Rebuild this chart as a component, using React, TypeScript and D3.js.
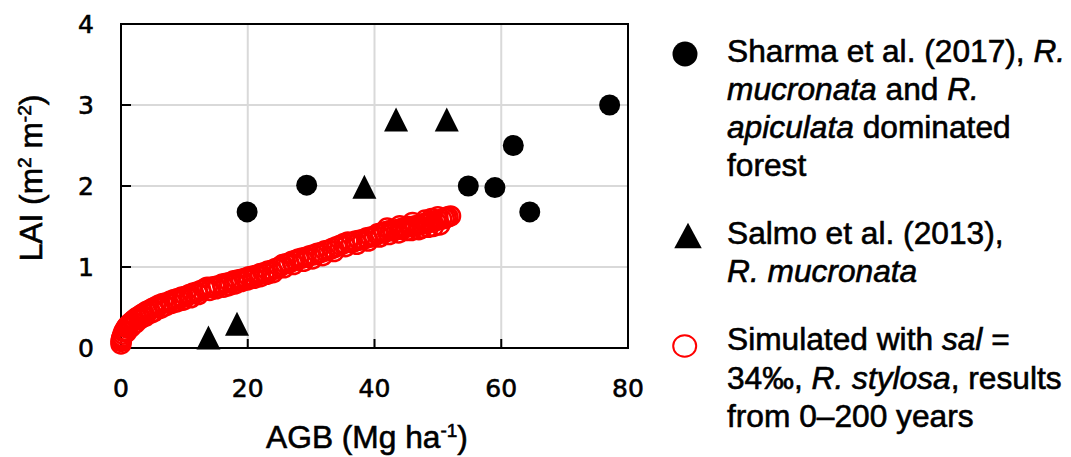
import React from "react";
import * as d3 from "d3";

const xTicks = [0, 20, 40, 60, 80];
const yTicks = [0, 1, 2, 3, 4];

// Sharma et al. (2017): [AGB, LAI]
const sharmaAGB = [19.9, 29.3, 54.8, 59.0, 61.9, 64.5, 77.1];
const sharmaLAI = [1.68, 2.01, 2.0, 1.98, 2.5, 1.68, 3.0];

// Salmo et al. (2013)
const salmoAGB = [13.8, 18.3, 38.4, 43.4, 51.4];
const salmoLAI = [0.13, 0.3, 1.99, 2.82, 2.82];

// Simulated, 0-200 years
const simulated: [number, number][] = [
  [0.0, 0.05], [0.0, 0.08], [0.05, 0.1], [0.1, 0.12], [0.2, 0.14], [0.3, 0.17], [0.45, 0.2],
  [0.6, 0.22], [0.8, 0.25], [0.9, 0.2], [1.0, 0.27], [1.25, 0.29], [1.5, 0.31], [1.6, 0.26],
  [1.8, 0.33], [2.1, 0.35], [2.3, 0.31], [2.4, 0.37], [2.8, 0.39], [3.0, 0.36], [3.2, 0.41],
  [3.6, 0.43], [3.8, 0.39], [4.0, 0.45], [4.5, 0.47], [4.7, 0.43], [5.0, 0.49], [5.2, 0.45],
  [5.5, 0.51], [6.0, 0.53], [6.2, 0.49], [6.6, 0.55], [7.0, 0.52], [7.2, 0.56], [7.8, 0.58],
  [8.0, 0.55], [8.4, 0.6], [8.8, 0.57], [9.0, 0.61], [9.6, 0.63], [9.8, 0.59], [10.2, 0.64],
  [10.8, 0.66], [11.0, 0.62], [11.4, 0.68], [12.0, 0.69], [12.2, 0.66], [12.6, 0.71],
  [13.2, 0.73], [13.6, 0.75], [14.0, 0.71], [14.2, 0.75], [14.8, 0.76], [15.0, 0.73],
  [15.4, 0.77], [16.0, 0.79], [16.2, 0.75], [16.6, 0.8], [17.0, 0.77], [17.2, 0.81],
  [17.8, 0.83], [18.0, 0.79], [18.4, 0.84], [19.0, 0.85], [19.0, 0.82], [19.6, 0.86],
  [20.0, 0.84], [20.2, 0.88], [20.8, 0.89], [21.0, 0.86], [21.4, 0.9], [22.0, 0.92],
  [22.0, 0.88], [22.6, 0.93], [23.0, 0.91], [23.2, 0.95], [23.8, 0.96], [24.0, 0.93],
  [24.4, 0.98], [25.0, 1.0], [25.5, 1.03], [25.7, 0.99], [26.0, 1.04], [26.5, 1.05],
  [27.0, 1.07], [27.2, 1.03], [27.5, 1.08], [28.0, 1.1], [28.6, 1.11], [28.8, 1.07],
  [29.2, 1.12], [29.8, 1.14], [30.2, 1.1], [30.4, 1.15], [31.0, 1.17], [31.6, 1.18],
  [31.8, 1.14], [32.2, 1.2], [32.8, 1.21], [33.4, 1.23], [33.6, 1.19], [34.0, 1.25],
  [34.6, 1.27], [35.2, 1.29], [35.4, 1.25], [35.8, 1.31], [36.4, 1.3], [37.0, 1.32],
  [37.2, 1.28], [37.6, 1.33], [38.2, 1.34], [38.8, 1.36], [39.0, 1.32], [39.4, 1.37],
  [40.0, 1.38], [40.5, 1.41], [40.8, 1.37], [41.0, 1.42], [41.5, 1.43], [42.0, 1.44],
  [42.0, 1.48], [42.3, 1.4], [42.5, 1.45], [43.0, 1.45], [43.5, 1.46], [43.8, 1.42],
  [44.0, 1.47], [44.0, 1.51], [44.5, 1.48], [45.0, 1.49], [45.0, 1.45], [45.5, 1.5],
  [45.8, 1.45], [46.0, 1.5], [46.0, 1.55], [46.5, 1.51], [47.0, 1.52], [47.0, 1.46],
  [47.5, 1.53], [47.5, 1.48], [48.0, 1.54], [48.0, 1.58], [48.5, 1.55], [48.5, 1.49],
  [49.0, 1.56], [49.0, 1.6], [49.3, 1.5], [49.6, 1.57], [50.0, 1.58], [50.0, 1.62],
  [50.3, 1.52], [50.6, 1.59], [51.0, 1.6], [51.3, 1.61], [51.6, 1.62], [52.0, 1.63],
];

const W = 1071;
const H = 457;

const x = d3.scaleLinear().domain([0, 80]).range([121, 628]);
const y = d3.scaleLinear().domain([0, 4]).range([348, 24]);

const tickFont = "'DejaVu Sans', Verdana, sans-serif";
const textFont = "'Liberation Sans', Arial, sans-serif";

function triPath(cx: number, cy: number, w: number, h: number) {
  return `M${cx - w / 2},${cy + h / 2}L${cx + w / 2},${cy + h / 2}L${cx},${cy - h / 2}Z`;
}

export default function App() {
  const [x0, x1] = x.range();
  const [y0, y1] = y.range();
  const lx = 727;
  const fs = 31.7;
  const ts = { stroke: "#000", strokeWidth: 0.6 };
  return (
    <svg
      width={W}
      height={H}
      style={{ position: "absolute", left: 0, top: 0, background: "#fff" }}
    >
      {/* gridlines */}
      {xTicks.map((t) => (
        <line key={"gx" + t} x1={x(t)} x2={x(t)} y1={y1} y2={y0} stroke="#d9d9d9" strokeWidth={2} />
      ))}
      {yTicks.map((t) => (
        <line key={"gy" + t} x1={x0} x2={x1} y1={y(t)} y2={y(t)} stroke="#d9d9d9" strokeWidth={2} />
      ))}
      {/* inward ticks */}
      {xTicks.map((t) => (
        <line key={"tx" + t} x1={x(t)} x2={x(t)} y1={y0} y2={y0 - 9} stroke="#000" strokeWidth={2} />
      ))}
      {yTicks.map((t) => (
        <line key={"ty" + t} x1={x0} x2={x0 + 10} y1={y(t)} y2={y(t)} stroke="#000" strokeWidth={2} />
      ))}
      {/* frame */}
      <rect x={x0} y={y1} width={x1 - x0} height={y0 - y1} fill="none" stroke="#000" strokeWidth={2} />

      {/* tick labels */}
      {xTicks.map((t) => (
        <text key={"lx" + t} x={x(t)} y={y0 + 49} textAnchor="middle" fontFamily={tickFont} fontSize={25} {...ts}>
          {t}
        </text>
      ))}
      {yTicks.map((t) => (
        <text key={"ly" + t} x={94} y={y(t) + 9} textAnchor="end" fontFamily={tickFont} fontSize={25} {...ts}>
          {t}
        </text>
      ))}

      {/* axis titles */}
      <text x={367} y={448} textAnchor="middle" fontFamily={textFont} fontSize={fs} {...ts}>
        AGB (Mg ha
        <tspan dy={-11} fontSize={19}>-1</tspan>
        <tspan dy={11}>)</tspan>
      </text>
      <text transform="translate(42,178) rotate(-90)" textAnchor="middle" fontFamily={textFont} fontSize={fs} {...ts}>
        LAI (m
        <tspan dy={-11} fontSize={19}>2</tspan>
        <tspan dy={11}> m</tspan>
        <tspan dy={-11} fontSize={19}>-2</tspan>
        <tspan dy={11}>)</tspan>
      </text>

      {/* simulated */}
      {simulated.map(([a, l], i) => (
        <circle key={"s" + i} cx={x(a)} cy={y(l)} r={9.5} fill="none" stroke="#ff0000" strokeWidth={2.5} />
      ))}
      {/* Sharma */}
      {sharmaAGB.map((a, i) => (
        <circle key={"c" + i} cx={x(a)} cy={y(sharmaLAI[i])} r={10.5} fill="#000" />
      ))}
      {/* Salmo */}
      {salmoAGB.map((a, i) => (
        <path key={"t" + i} d={triPath(x(a), y(salmoLAI[i]), 24, 24)} fill="#000" />
      ))}

      {/* legend */}
      <circle cx={685} cy={54} r={12.5} fill="#000" />
      <path d={triPath(688, 235.5, 27.5, 25.5)} fill="#000" />
      <ellipse cx={684.7} cy={346} rx={11.5} ry={10.8} fill="none" stroke="#ff0000" strokeWidth={2} />

      <g fontFamily={textFont} fontSize={fs} fill="#000" {...ts}>
        <text x={lx} y={62}>
          Sharma et al. (2017), <tspan fontStyle="italic">R.</tspan>
        </text>
        <text x={lx} y={100}>
          <tspan fontStyle="italic">mucronata</tspan> and <tspan fontStyle="italic">R.</tspan>
        </text>
        <text x={lx} y={138}>
          <tspan fontStyle="italic">apiculata</tspan> dominated
        </text>
        <text x={lx} y={176}>forest</text>
        <text x={lx} y={244}>Salmo et al. (2013),</text>
        <text x={lx} y={282}>
          <tspan fontStyle="italic">R. mucronata</tspan>
        </text>
        <text x={lx} y={350}>
          Simulated with <tspan fontStyle="italic">sal</tspan> =
        </text>
        <text x={lx} y={389}>
          34‰, <tspan fontStyle="italic">R. stylosa</tspan>, results
        </text>
        <text x={lx} y={427}>from 0–200 years</text>
      </g>
    </svg>
  );
}
